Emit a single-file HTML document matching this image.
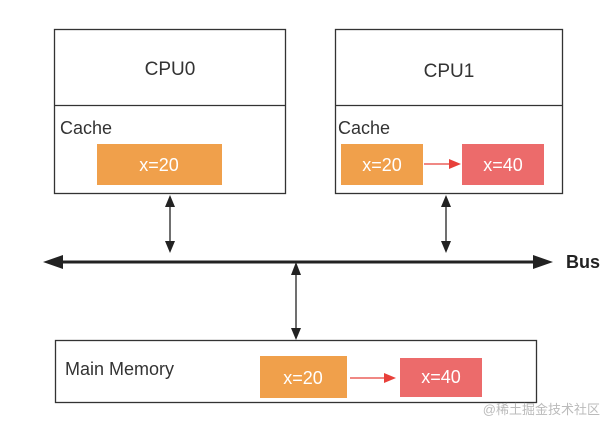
<!DOCTYPE html>
<html><head><meta charset="utf-8"><style>
html,body{margin:0;padding:0;background:#fff;}
</style></head><body>
<svg width="615" height="429" viewBox="0 0 615 429" xmlns="http://www.w3.org/2000/svg" font-family="Liberation Sans, sans-serif">
<g fill="none" stroke="#333" stroke-width="1.3">
<rect x="54.5" y="29.5" width="231" height="164"/>
<line x1="54.5" y1="105.5" x2="285.5" y2="105.5"/>
<rect x="335.5" y="29.5" width="227" height="164"/>
<line x1="335.5" y1="105.5" x2="562.5" y2="105.5"/>
<rect x="55.5" y="340.5" width="481" height="62"/>
</g>
<text x="170" y="75" font-size="19" text-anchor="middle" fill="#333">CPU0</text>
<text x="449" y="77" font-size="19" text-anchor="middle" fill="#333">CPU1</text>
<text x="60" y="134" font-size="18" fill="#333">Cache</text>
<text x="338" y="134" font-size="18" fill="#333">Cache</text>
<text x="65" y="375" font-size="18" fill="#333">Main Memory</text>
<rect x="97" y="144" width="125" height="41" fill="#f0a04b"/>
<rect x="341" y="144" width="82" height="41" fill="#f0a04b"/>
<rect x="462" y="144" width="82" height="41" fill="#ec6b6b"/>
<rect x="260" y="356" width="87" height="42" fill="#f0a04b"/>
<rect x="400" y="358" width="82" height="39" fill="#ec6b6b"/>
<g font-size="18" fill="#fff" text-anchor="middle">
<text x="159" y="171">x=20</text>
<text x="382" y="171">x=20</text>
<text x="503" y="171">x=40</text>
<text x="303" y="384">x=20</text>
<text x="441" y="383">x=40</text>
</g>
<g stroke="#e8403a" stroke-width="1.3">
<line x1="424" y1="164" x2="450" y2="164"/>
<line x1="350" y1="378" x2="384" y2="378"/>
</g>
<g fill="#e8403a">
<path d="M461,164 L449,159 L449,169 Z"/>
<path d="M396,378 L384,373 L384,383 Z"/>
</g>
<g stroke="#222" stroke-width="1.3">
<line x1="170" y1="205" x2="170" y2="242"/>
<line x1="446" y1="205" x2="446" y2="242"/>
<line x1="296" y1="274" x2="296" y2="330"/>
</g>
<g fill="#222">
<path d="M170,195 L165,207 L175,207 Z"/><path d="M170,253 L165,241 L175,241 Z"/>
<path d="M446,195 L441,207 L451,207 Z"/><path d="M446,253 L441,241 L451,241 Z"/>
<path d="M296,262 L291,275 L301,275 Z"/><path d="M296,340 L291,328 L301,328 Z"/>
<path d="M43,262 L63,255 L63,269 Z"/><path d="M553,262 L533,255 L533,269 Z"/>
</g>
<line x1="60" y1="262" x2="536" y2="262" stroke="#222" stroke-width="3"/>
<text x="566" y="268" font-size="18" font-weight="bold" fill="#222">Bus</text>
<text x="600" y="414" font-size="13" text-anchor="end" fill="#bbb" font-family="Liberation Sans, Noto Sans CJK SC, sans-serif">@稀土掘金技术社区</text>
</svg>
</body></html>
